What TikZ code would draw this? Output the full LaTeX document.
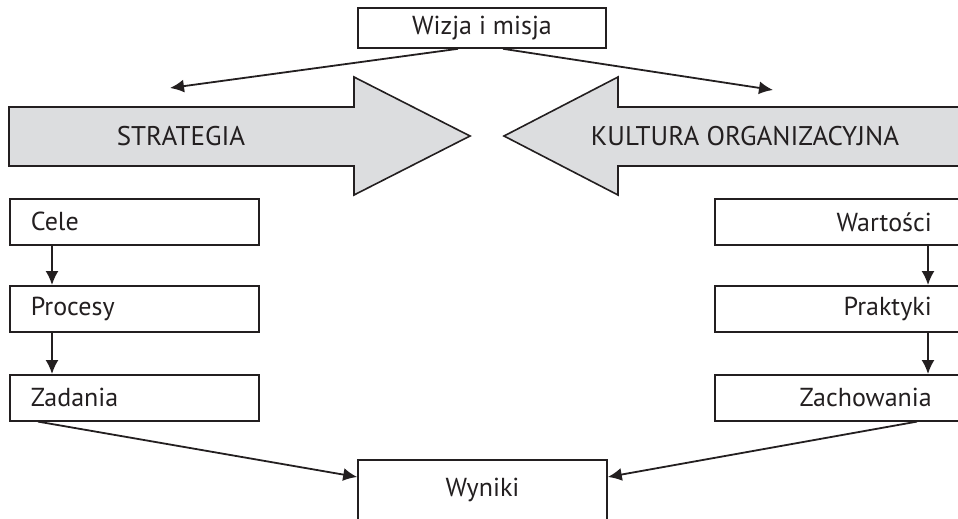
\documentclass[tikz,border=0pt]{standalone}
\usepackage{fontspec}
\setmainfont{PT Sans}
\usetikzlibrary{arrows.meta}
\definecolor{ink}{HTML}{231F20}
\definecolor{bandgray}{HTML}{DCDDDF}
\begin{document}
\begin{tikzpicture}[x=1pt,y=-1pt,
  every node/.style={font=\fontsize{26}{30}\selectfont, text=ink},
  frame/.style={draw=ink, line width=1.6pt, fill=white, rectangle,
    minimum height=46pt, inner ysep=0pt},
  leftbox/.style={frame, text width=207pt, inner xsep=21pt, align=left},
  rightbox/.style={frame, text width=185pt, inner xsep=32pt, align=right},
  band/.style={draw=ink, line width=1.6pt, fill=bandgray, line join=miter},
  bandlabel/.style={font=\fontsize{27}{31}\selectfont},
  link/.style={draw=ink, line width=1.8pt, -{Latex[length=14pt,width=13pt]}}]
\useasboundingbox (0,0) rectangle (958,519);
\clip (0,0) rectangle (958,519);

% Top box
\node[frame, minimum width=248pt, minimum height=40pt] (wizja) at (482,28) {Wizja i misja};

% Broad arrows
\draw[band] (9,107) -- (354,107) -- (354,77) -- (470,136) -- (354,195)
  -- (354,166) -- (9,166) -- cycle;
\draw[band] (504,136) -- (618,77) -- (618,107) -- (975,107) -- (975,166)
  -- (618,166) -- (618,195) -- cycle;
\node[bandlabel] (strategia) at (181,136) {STRATEGIA};
\node[bandlabel] (kultura) at (745,136) {KULTURA ORGANIZACYJNA};

% Left column
\node[leftbox, anchor=north west] (cele) at (9,198) {Cele};
\node[leftbox, anchor=north west] (procesy) at (9,285) {Procesy};
\node[leftbox, anchor=north west] (zadania) at (9,374) {Zadania};

% Right column
\node[rightbox, anchor=north west] (wartosci) at (714,198) {Wartości};
\node[rightbox, anchor=north west] (praktyki) at (714,285) {Praktyki};
\node[rightbox, anchor=north west] (zachowania) at (714,374) {Zachowania};

% Bottom box
\node[frame, minimum width=249pt, minimum height=60pt] (wyniki) at (482.5,490) {Wyniki};

% Free ends of the top connectors
\coordinate (toStrategia) at (170,88);
\coordinate (toKultura) at (773,90);

% Connectors
\draw[link] ([xshift=-24pt]wizja.south) -- (toStrategia);
\draw[link] ([xshift=21pt]wizja.south) -- (toKultura);

\draw[link] ([xshift=43pt]cele.south west) -- ([xshift=43pt]procesy.north west);
\draw[link] ([xshift=43pt]procesy.south west) -- ([xshift=43pt]zadania.north west);
\draw[link] ([xshift=214pt]wartosci.south west) -- ([xshift=214pt]praktyki.north west);
\draw[link] ([xshift=214pt]praktyki.south west) -- ([xshift=214pt]zachowania.north west);

\draw[link] ([xshift=29pt]zadania.south west) -- ([yshift=13pt]wyniki.west);
\draw[link] ([xshift=203pt]zachowania.south west) -- ([yshift=13pt]wyniki.east);
\end{tikzpicture}
\end{document}
